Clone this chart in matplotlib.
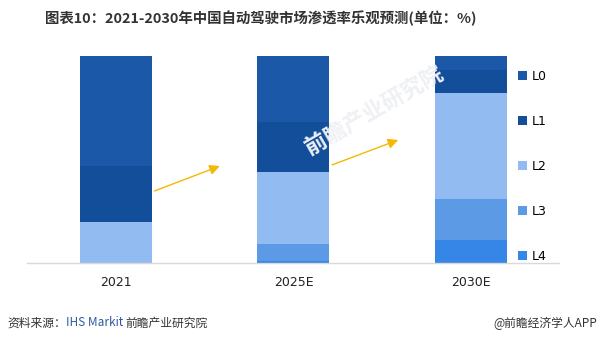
import matplotlib
matplotlib.use("Agg")
import matplotlib.pyplot as plt
from matplotlib.patches import Patch

plt.rcParams['font.family'] = ['DejaVu Sans', 'Noto Sans CJK SC']

categories = ["2021", "2025E", "2030E"]
levels = ["L0", "L1", "L2", "L3", "L4"]
L0 = [53, 32, 7]
L1 = [27, 24, 11]
L2 = [20, 35, 51]
L3 = [0, 8, 20]
L4 = [0, 1, 11]
colors = {"L0": "#1b58a8", "L1": "#134e9b", "L2": "#92bbf2", "L3": "#5c9ae6", "L4": "#3686e7"}

fig = plt.figure(figsize=(6.04, 3.44), dpi=100)
ax = fig.add_axes([27/604, 1-263/344, (559-27)/604, (263-56)/344])

x = list(range(len(categories)))
series = {"L0": L0, "L1": L1, "L2": L2, "L3": L3, "L4": L4}
bottom = [0]*len(categories)
for lv in ["L4", "L3", "L2", "L1", "L0"]:
    vals = series[lv]
    ax.bar(x, vals, width=0.405, bottom=bottom, color=colors[lv], linewidth=0, zorder=2)
    bottom = [b + v for b, v in zip(bottom, vals)]

ax.set_xlim(-0.5, 2.495)
ax.set_ylim(0, 100)
ax.set_yticks([])
ax.set_xticks(x)
ax.set_xticklabels(categories, fontsize=9, color="#222222")
ax.tick_params(axis='x', length=0, pad=9)
for s in ["top", "right", "left"]:
    ax.spines[s].set_visible(False)
ax.spines["bottom"].set_color("#d9d9d9")
ax.spines["bottom"].set_linewidth(1.0)

# trend arrows
arrow_kw = dict(arrowstyle="-|>,head_length=0.6,head_width=0.3", color="#f5b800", lw=1.0)
ax.annotate("", xy=(0.60, 47.3), xytext=(0.2025, 34.3), arrowprops=arrow_kw, zorder=3)
ax.annotate("", xy=(1.604, 59.9), xytext=(1.2025, 46.9), arrowprops=arrow_kw, zorder=3)

# legend
handles = [Patch(facecolor=colors[lv], edgecolor="none", label=lv) for lv in levels]
leg = fig.legend(handles=handles, loc="upper left", bbox_to_anchor=(518/604, 1-70/344),
                 frameon=False, fontsize=9, handlelength=0.75, handleheight=0.75,
                 handletextpad=0.35, labelspacing=2.56, borderaxespad=0, borderpad=0)

# watermark
fig.text(0.62, 0.68, "前瞻产业研究院", fontsize=16, color="#eef0f4", rotation=30, family="Noto Sans CJK SC",
         fontweight="bold", ha="center", va="center", zorder=0)

# title
fig.text(261/604, 1-18/344, "图表10：2021-2030年中国自动驾驶市场渗透率乐观预测(单位：%)",
         fontsize=10.4, fontweight="bold", color="#333333", ha="center", va="center",
         family=["Noto Sans CJK SC", "DejaVu Sans"])

# source
t1 = fig.text(7/604, 1-323/344, "资料来源：", fontsize=8.5, color="#333333", ha="left", va="center",
              family=["Noto Sans CJK SC", "DejaVu Sans"])
fig.canvas.draw()
bb = t1.get_window_extent()
t2 = fig.text(bb.x1/604, 1-323/344, "IHS Markit", fontsize=8.5, color="#2c5aa0", ha="left", va="center",
              family=["Noto Sans CJK SC", "DejaVu Sans"])
fig.canvas.draw()
bb2 = t2.get_window_extent()
fig.text(bb2.x1/604 + 0.004, 1-323/344, "前瞻产业研究院", fontsize=8.5, color="#333333", ha="left", va="center",
         family=["Noto Sans CJK SC", "DejaVu Sans"])
fig.text(597/604, 1-323/344, "@前瞻经济学人APP", fontsize=8.5, color="#333333", ha="right", va="center",
         family=["Noto Sans CJK SC", "DejaVu Sans"])

fig.savefig("out.png", dpi=100)
